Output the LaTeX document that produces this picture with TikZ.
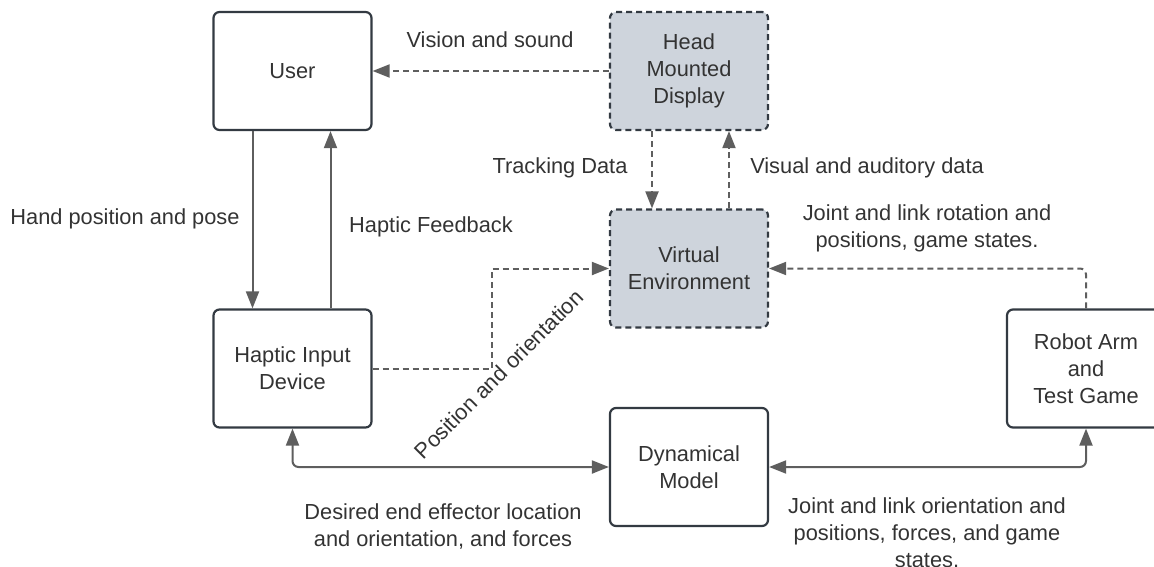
\documentclass[tikz,border=0pt]{standalone}
\usepackage{fontspec}
\setmainfont{Liberation Sans}
\usetikzlibrary{arrows.meta,calc}
\definecolor{ink}{HTML}{333333}
\definecolor{wire}{HTML}{5E5E5E}
\definecolor{boxedge}{HTML}{333A42}
\definecolor{panel}{HTML}{CED4DC}

\begin{document}
\begin{tikzpicture}[x=1pt,y=-1pt,
  every node/.style={text=ink, font=\fontsize{21.8}{27}\selectfont},
  block/.style={draw=boxedge, line width=2.2pt, rounded corners=6pt,
    minimum width=158pt, minimum height=118pt, align=center, fill=white, inner sep=0pt},
  vblock/.style={block, fill=panel, dash pattern=on 6pt off 4pt},
  tip/.style={Triangle[length=17pt,width=13pt]},
  link/.style={draw=wire, line width=2pt, -{Triangle[length=17pt,width=13pt]}},
  biway/.style={link, {Triangle[length=17pt,width=13pt]}-{Triangle[length=17pt,width=13pt]}, rounded corners=6pt},
  dlink/.style={link, dash pattern=on 6pt off 4pt},
  lbl/.style={align=center, inner sep=0pt}
]
\useasboundingbox (0,0) rectangle (1154,566);
\clip (0,0) rectangle (1154,566);

% blocks
\node[block]  (user)  at (292.5,71)    {User};
\node[vblock] (hmd)   at (689,71)      {Head\\Mounted\\Display};
\node[vblock] (venv)  at (689,268.5)   {Virtual\\Environment};
\node[block]  (hid)   at (292.5,368.5) {Haptic Input\\Device};
\node[block]  (dyn)   at (689,467)     {Dynamical\\Model};
\node[block]  (robot) at (1086,368.5)  {Robot Arm\\and\\Test Game};

% connectors
\draw[dlink] (hmd.west) -- (user.east);
\draw[link] ([xshift=-40pt]user.south) -- ([xshift=-40pt]hid.north);
\draw[link] ([xshift=38pt]hid.north) -- ([xshift=38pt]user.south);
\draw[dlink] ([xshift=-37pt]hmd.south) -- ([xshift=-37pt]venv.north);
\draw[dlink] ([xshift=40pt]venv.north) -- ([xshift=40pt]hmd.south);
\draw[dlink] (hid.east) -- ++(119,0) |- (venv.west);
\draw[dlink, rounded corners=6pt] (robot.north) |- (venv.east);
\draw[biway] (hid.south) |- (dyn.west);
\draw[biway] (dyn.east) -| (robot.south);

% labels
\node[lbl] (lvision)   at (490,40)    {Vision and sound};
\node[lbl] (ltrack)    at (560,168)   {Tracking Data};
\node[lbl] (lvisual)   at (867,168)   {Visual and auditory data};
\node[lbl] (lhand)     at (125,219)   {Hand position and pose};
\node[lbl] (lfeedback) at (431,227)   {Haptic Feedback};
\node[lbl] (ljointrot) at (927,228.5) {Joint and link rotation and\\positions, game states.};
\node[lbl, rotate=45] (lposor) at (499,374) {Position and orientation};
\node[lbl] (ldesired)  at (443,526)   {Desired end effector location\\and orientation, and forces};
\node[lbl] (ljointor)  at (927,532.5) {Joint and link orientation and\\positions, forces, and game\\states.};
\end{tikzpicture}
\end{document}
